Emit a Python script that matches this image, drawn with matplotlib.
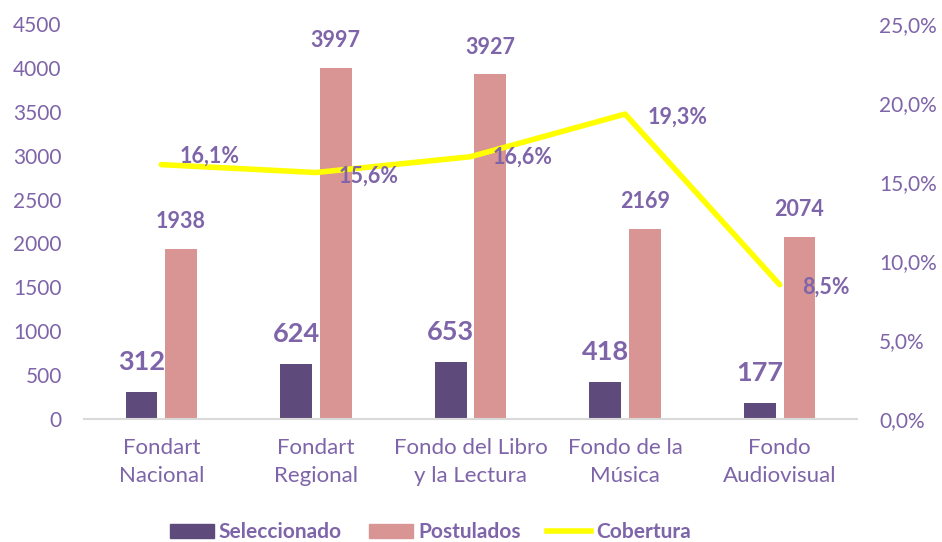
import matplotlib
matplotlib.use('Agg')

import matplotlib.pyplot as plt
import numpy as np
from matplotlib.lines import Line2D
from matplotlib.patches import Patch

categorias = ['Fondart\nNacional', 'Fondart\nRegional', 'Fondo del Libro\ny la Lectura',
              'Fondo de la\nMúsica', 'Fondo\nAudiovisual']
seleccionado = [312, 624, 653, 418, 177]
postulados = [1938, 3997, 3927, 2169, 2074]
cobertura = [16.1, 15.6, 16.6, 19.3, 8.5]

TXT = '#7e64a8'
C_SEL = '#5f4b7b'
C_POS = '#d99594'
C_LINE = '#ffff00'

plt.rcParams['font.family'] = ['Lato', 'DejaVu Sans']

fig = plt.figure(figsize=(9.42, 5.42), dpi=100)
ax = fig.add_axes([84 / 942, 123 / 542, 773 / 942, 395 / 542])
ax2 = ax.twinx()

x = np.arange(len(categorias))
w = 0.205
off = 0.128

b1 = ax.bar(x - off, seleccionado, w, color=C_SEL, zorder=2)
b2 = ax.bar(x + off, postulados, w, color=C_POS, zorder=2)

for rect, v in zip(b1, seleccionado):
    ax.annotate(str(v), (rect.get_x() + rect.get_width() / 2, v),
                xytext=(0, 13), textcoords='offset points', ha='center', va='bottom',
                fontsize=19.5, fontweight='bold', color=TXT)
for rect, v in zip(b2, postulados):
    ax.annotate(str(v), (rect.get_x() + rect.get_width() / 2, v),
                xytext=(0, 12), textcoords='offset points', ha='center', va='bottom',
                fontsize=15.5, fontweight='bold', color=TXT)

ax.set_xlim(-0.5, len(categorias) - 0.5)
ax.set_ylim(0, 4500)
ax.set_yticks(range(0, 4501, 500))
ax.set_xticks(x)
ax.set_xticklabels(categorias, fontsize=16, color=TXT, linespacing=1.5)
ax.tick_params(axis='y', labelsize=15, labelcolor=TXT, length=0, pad=16)
ax.tick_params(axis='x', length=0, pad=14)
for s in ['top', 'right', 'left']:
    ax.spines[s].set_visible(False)
ax.spines['bottom'].set_color('#d9d9d9')
ax.spines['bottom'].set_linewidth(1.5)

ax2.plot(x, cobertura, color=C_LINE, linewidth=4, solid_capstyle='round', zorder=3)
ax2.set_ylim(0, 25)
ax2.set_yticks(np.arange(0, 25.1, 5))
ax2.set_yticklabels([f'{t:.1f}%'.replace('.', ',') for t in np.arange(0, 25.1, 5)])
ax2.tick_params(axis='y', labelsize=15, labelcolor=TXT, length=0, pad=16)
for s in ['top', 'right', 'left', 'bottom']:
    ax2.spines[s].set_visible(False)

pct_off = [(13, 6), (16, -3), (16, 0), (16, -2), (16, -2)]
for xi, v, (dx, dy) in zip(x, cobertura, pct_off):
    ax2.annotate(f'{v:.1f}%'.replace('.', ','), (xi, v), xytext=(dx, dy),
                 textcoords='offset points', ha='left', va='center',
                 fontsize=15.5, fontweight='bold', color=TXT, zorder=4)

handles = [Patch(color=C_SEL), Patch(color=C_POS), Line2D([0], [0], color=C_LINE, lw=4)]
leg = fig.legend(handles, ['Seleccionado', 'Postulados', 'Cobertura'], loc='center',
                 bbox_to_anchor=(0.457, 0.018), ncol=3, frameon=False, fontsize=15,
                 handlelength=2.1, handleheight=0.65, handletextpad=0.25, columnspacing=1.3)
for t in leg.get_texts():
    t.set_color(TXT)
    t.set_fontweight('bold')

fig.savefig('out.png', dpi=100)
plt.close(fig)
